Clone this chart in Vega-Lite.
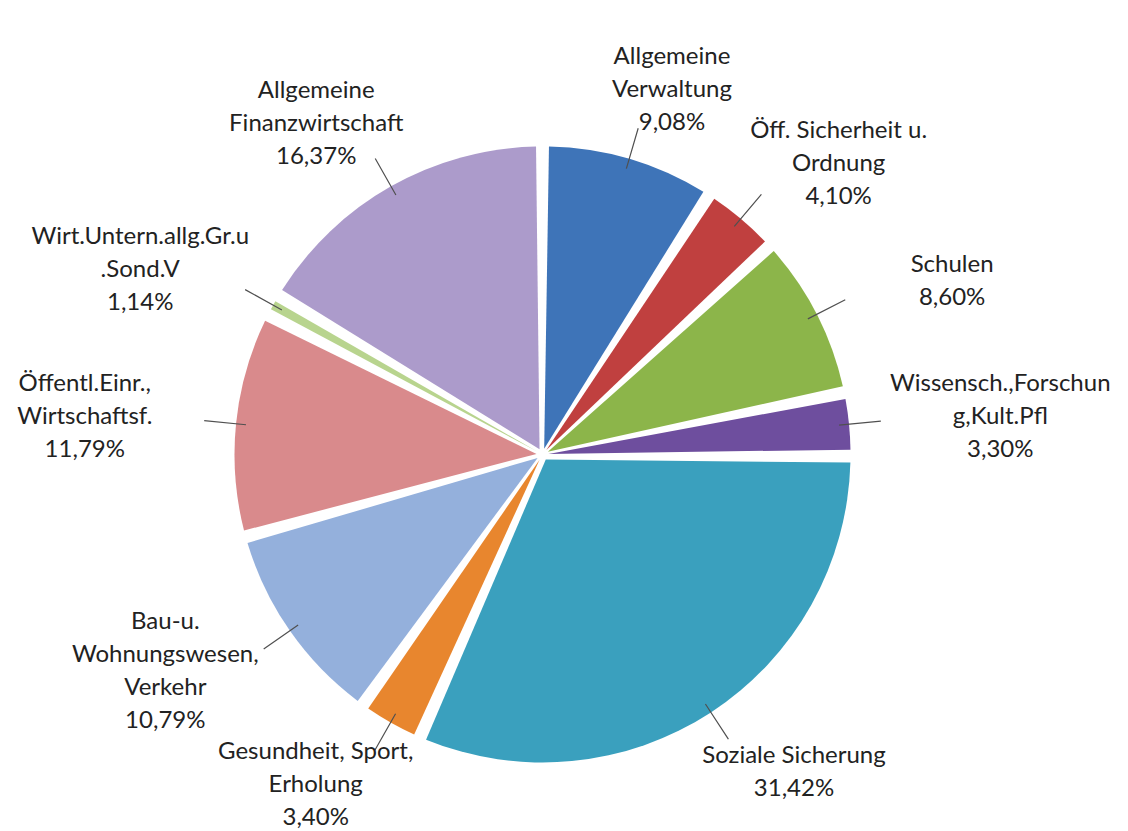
{
  "$schema": "https://vega.github.io/schema/vega-lite/v6.json",
  "width": 1128,
  "height": 831,
  "autosize": {"type": "fit", "contains": "padding"},
  "padding": {"left": 0, "top": 78, "right": 38, "bottom": 0},
  "background": "white",
  "config": {"view": {"stroke": null}},
  "data": {
    "values": [
      {"order": 1, "name": "Allgemeine Verwaltung", "value": 9.08, "label": "Allgemeine\nVerwaltung\n9,08%"},
      {"order": 2, "name": "Öff. Sicherheit u. Ordnung", "value": 4.10, "label": "Öff. Sicherheit u.\nOrdnung\n4,10%"},
      {"order": 3, "name": "Schulen", "value": 8.60, "label": "Schulen\n8,60%"},
      {"order": 4, "name": "Wissensch.,Forschung,Kult.Pfl", "value": 3.30, "label": "Wissensch.,Forschun\ng,Kult.Pfl\n3,30%"},
      {"order": 5, "name": "Soziale Sicherung", "value": 31.42, "label": "Soziale Sicherung\n31,42%"},
      {"order": 6, "name": "Gesundheit, Sport, Erholung", "value": 3.40, "label": "Gesundheit, Sport,\nErholung\n3,40%"},
      {"order": 7, "name": "Bau-u. Wohnungswesen, Verkehr", "value": 10.79, "label": "Bau-u.\nWohnungswesen,\nVerkehr\n10,79%"},
      {"order": 8, "name": "Öffentl.Einr., Wirtschaftsf.", "value": 11.79, "label": "Öffentl.Einr.,\nWirtschaftsf.\n11,79%"},
      {"order": 9, "name": "Wirt.Untern.allg.Gr.u.Sond.V", "value": 1.14, "label": "Wirt.Untern.allg.Gr.u\n.Sond.V\n1,14%"},
      {"order": 10, "name": "Allgemeine Finanzwirtschaft", "value": 16.37, "label": "Allgemeine\nFinanzwirtschaft\n16,37%"}
    ]
  },
  "transform": [
    {"stack": "value", "groupby": [], "sort": [{"field": "order", "order": "ascending"}], "as": ["v0", "v1"]},
    {"calculate": "(datum.v0 + datum.v1) / 2", "as": "mid"}
  ],
  "layer": [
    {
      "mark": {"type": "arc", "radius": 308, "radius2": 6, "padAngle": 0.042},
      "encoding": {
        "theta": {"field": "v0", "type": "quantitative", "scale": {"domain": [0, 99.99]}},
        "theta2": {"field": "v1"},
        "color": {
          "field": "name",
          "type": "nominal",
          "legend": null,
          "scale": {
            "domain": ["Allgemeine Verwaltung", "Öff. Sicherheit u. Ordnung", "Schulen", "Wissensch.,Forschung,Kult.Pfl", "Soziale Sicherung", "Gesundheit, Sport, Erholung", "Bau-u. Wohnungswesen, Verkehr", "Öffentl.Einr., Wirtschaftsf.", "Wirt.Untern.allg.Gr.u.Sond.V", "Allgemeine Finanzwirtschaft"],
            "range": ["#3E74B8", "#C0403F", "#8CB54A", "#6E4E9E", "#3AA0BE", "#E8862E", "#94B0DC", "#D98A8C", "#B8D48E", "#AC9BCB"]
          }
        }
      }
    },
    {
      "mark": {"type": "arc", "radius": 340, "radius2": 298, "filled": false, "color": "#505050", "strokeWidth": 1.2},
      "encoding": {
        "theta": {"field": "mid", "type": "quantitative", "stack": false, "scale": {"domain": [0, 99.99]}},
        "theta2": {"field": "mid"}
      }
    },
    {
      "mark": {
        "type": "text",
        "radius": 380,
        "dx": {"expr": "80 * sin(2 * PI * datum.mid / 99.99)"},
        "dy": {"expr": "-(length(split(datum.label, '\\n')) - 1) * 16.5"},
        "align": "center",
        "baseline": "middle",
        "lineBreak": "\n",
        "font": "Lato",
        "fontSize": 24,
        "lineHeight": 33,
        "color": "#222222"
      },
      "encoding": {
        "theta": {"field": "mid", "type": "quantitative", "stack": false, "scale": {"domain": [0, 99.99]}},
        "text": {"field": "label"}
      }
    }
  ]
}
